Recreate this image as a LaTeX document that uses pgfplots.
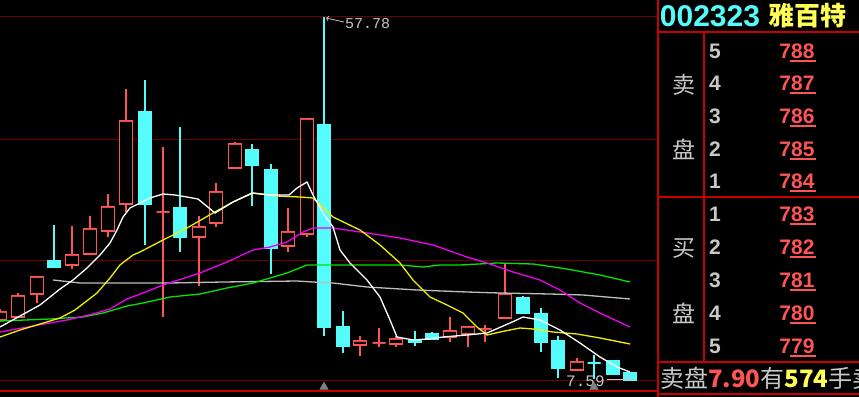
\documentclass[border=0pt]{standalone}
\usepackage{pgfplots}
\pgfplotsset{compat=1.18}
\usepgfplotslibrary{statistics}
\usepackage{fontspec}
\setmainfont{Liberation Sans}
\newfontfamily\cjk{Noto Sans CJK SC}
\newfontfamily\mono{Liberation Mono}
\definecolor{cr}{RGB}{255,84,84}
\definecolor{cc}{RGB}{84,252,252}
\definecolor{gridr}{RGB}{110,0,0}
\definecolor{bord}{RGB}{200,0,0}
\definecolor{mafive}{RGB}{255,255,255}
\definecolor{maten}{RGB}{240,240,0}
\definecolor{matwenty}{RGB}{240,0,240}
\definecolor{mathirty}{RGB}{0,230,0}
\definecolor{masixty}{RGB}{190,190,190}
\definecolor{txtg}{RGB}{200,200,200}
\definecolor{yel}{RGB}{255,255,84}
\tikzset{
  rc/.style={draw=cr, fill=black, line width=1.2bp, solid},
  cy/.style={draw=cc, fill=cc, line width=1.2bp, solid},
  mal/.style={line width=1.3bp, solid, mark=none},
}
\newcommand{\pf}{\fontsize{21bp}{21bp}\selectfont\bfseries}
\begin{document}
\begin{tikzpicture}
\begin{axis}[
  width=859bp, height=397bp, scale only axis,
  xmin=0, xmax=859, ymin=0, ymax=397, y dir=reverse,
  hide axis, clip=true,
  boxplot/draw direction=y,
  boxplot/whisker extend=0,
  boxplot/box extend=13,
  boxplot/every median/.style={draw=none},
]
% background
\addplot[fill=black, draw=none] coordinates {(0,0)(859,0)(859,397)(0,397)(0,0)};
% grid lines
\addplot[gridr, line width=1bp, mark=none] coordinates {(0,17)(657,17)};
\addplot[gridr, line width=1bp, mark=none] coordinates {(0,139)(657,139)};
\addplot[gridr, line width=1bp, mark=none] coordinates {(0,260)(657,260)};
\addplot[gridr, line width=1bp, mark=none] coordinates {(0,380)(657,380)};
\addplot[bord, line width=1.2bp, mark=none] coordinates {(0,391)(657,391)};
% right panel frame
\addplot[bord, line width=1.2bp, mark=none] coordinates {(658,0)(658,397)};
\addplot[bord, line width=1.2bp, mark=none] coordinates {(704,32)(704,362)};
\addplot[bord, line width=1.2bp, mark=none] coordinates {(658,32)(859,32)};
\addplot[bord, line width=1.2bp, mark=none] coordinates {(658,197)(859,197)};
\addplot[bord, line width=1.2bp, mark=none] coordinates {(658,362)(859,362)};
\addplot[bord, line width=1.2bp, mark=none] coordinates {(658,394)(859,394)};
% candles (pixel scale): position, low, bottom, top, high
\addplot[rc, boxplot prepared={draw position=0,   lower whisker=322, lower quartile=320, median=312, upper quartile=312, upper whisker=309}] coordinates {};
\addplot[rc, boxplot prepared={draw position=18,  lower whisker=317, lower quartile=317, median=296, upper quartile=296, upper whisker=293}] coordinates {};
\addplot[rc, boxplot prepared={draw position=37,  lower whisker=303, lower quartile=294, median=277, upper quartile=277, upper whisker=277}] coordinates {};
\addplot[cy, boxplot prepared={draw position=54,  lower whisker=267, lower quartile=267, median=261, upper quartile=261, upper whisker=225}] coordinates {};
\addplot[rc, boxplot prepared={draw position=72,  lower whisker=269, lower quartile=265, median=255, upper quartile=255, upper whisker=226}] coordinates {};
\addplot[rc, boxplot prepared={draw position=90,  lower whisker=254, lower quartile=254, median=229, upper quartile=229, upper whisker=216}] coordinates {};
\addplot[rc, boxplot prepared={draw position=108, lower whisker=237, lower quartile=231, median=207, upper quartile=207, upper whisker=194}] coordinates {};
\addplot[rc, boxplot prepared={draw position=126, lower whisker=212, lower quartile=204, median=121, upper quartile=121, upper whisker=89}] coordinates {};
\addplot[cy, boxplot prepared={draw position=145, lower whisker=245, lower quartile=204, median=112, upper quartile=112, upper whisker=80}] coordinates {};
\addplot[rc, boxplot prepared={draw position=163, lower whisker=317, lower quartile=212, median=212, upper quartile=212, upper whisker=147}] coordinates {};
\addplot[cy, boxplot prepared={draw position=180, lower whisker=252, lower quartile=237, median=208, upper quartile=208, upper whisker=127}] coordinates {};
\addplot[rc, boxplot prepared={draw position=199, lower whisker=286, lower quartile=237, median=227, upper quartile=227, upper whisker=216}] coordinates {};
\addplot[rc, boxplot prepared={draw position=216, lower whisker=227, lower quartile=223, median=192, upper quartile=192, upper whisker=183}] coordinates {};
\addplot[rc, boxplot prepared={draw position=235, lower whisker=168, lower quartile=168, median=144, upper quartile=144, upper whisker=142}] coordinates {};
\addplot[cy, boxplot prepared={draw position=252, lower whisker=206, lower quartile=165, median=150, upper quartile=150, upper whisker=144}] coordinates {};
\addplot[cy, boxplot prepared={draw position=271, lower whisker=274, lower quartile=248, median=170, upper quartile=170, upper whisker=164}] coordinates {};
\addplot[rc, boxplot prepared={draw position=288, lower whisker=252, lower quartile=246, median=232, upper quartile=232, upper whisker=208}] coordinates {};
\addplot[rc, boxplot prepared={draw position=307, lower whisker=237, lower quartile=234, median=119, upper quartile=119, upper whisker=119}] coordinates {};
\addplot[cy, boxplot prepared={draw position=324, lower whisker=336, lower quartile=327, median=125, upper quartile=125, upper whisker=17}] coordinates {};
\addplot[cy, boxplot prepared={draw position=343, lower whisker=353, lower quartile=346, median=327, upper quartile=327, upper whisker=311}] coordinates {};
\addplot[rc, boxplot prepared={draw position=360, lower whisker=356, lower quartile=345, median=341, upper quartile=341, upper whisker=336}] coordinates {};
\addplot[rc, boxplot prepared={draw position=379, lower whisker=347, lower quartile=343, median=343, upper quartile=343, upper whisker=328}] coordinates {};
\addplot[rc, boxplot prepared={draw position=396, lower whisker=347, lower quartile=344, median=339, upper quartile=339, upper whisker=336}] coordinates {};
\addplot[cy, boxplot prepared={draw position=415, lower whisker=346, lower quartile=342, median=340, upper quartile=340, upper whisker=331}] coordinates {};
\addplot[cy, boxplot prepared={draw position=432, lower whisker=339, lower quartile=339, median=334, upper quartile=334, upper whisker=332}] coordinates {};
\addplot[rc, boxplot prepared={draw position=450, lower whisker=342, lower quartile=337, median=331, upper quartile=331, upper whisker=317}] coordinates {};
\addplot[rc, boxplot prepared={draw position=468, lower whisker=347, lower quartile=334, median=327, upper quartile=327, upper whisker=327}] coordinates {};
\addplot[rc, boxplot prepared={draw position=485, lower whisker=342, lower quartile=329, median=329, upper quartile=329, upper whisker=325}] coordinates {};
\addplot[rc, boxplot prepared={draw position=505, lower whisker=318, lower quartile=318, median=294, upper quartile=294, upper whisker=263}] coordinates {};
\addplot[cy, boxplot prepared={draw position=523, lower whisker=313, lower quartile=313, median=298, upper quartile=298, upper whisker=296}] coordinates {};
\addplot[cy, boxplot prepared={draw position=541, lower whisker=352, lower quartile=342, median=314, upper quartile=314, upper whisker=308}] coordinates {};
\addplot[cy, boxplot prepared={draw position=558, lower whisker=378, lower quartile=368, median=341, upper quartile=341, upper whisker=336}] coordinates {};
\addplot[rc, boxplot prepared={draw position=577, lower whisker=370, lower quartile=370, median=362, upper quartile=362, upper whisker=358}] coordinates {};
\addplot[cy, boxplot prepared={draw position=594, lower whisker=379, lower quartile=363, median=363, upper quartile=363, upper whisker=355}] coordinates {};
\addplot[cy, boxplot prepared={draw position=613, lower whisker=374, lower quartile=374, median=361, upper quartile=361, upper whisker=361}] coordinates {};
\addplot[cy, boxplot prepared={draw position=630, lower whisker=380, lower quartile=380, median=373, upper quartile=373, upper whisker=373}] coordinates {};
% moving averages
\addplot[mal, masixty] coordinates {(53,280)(80,283)(170,283)(223,282)(297,281)(313,282)(333,283)(367,287)(417,290)(467,292)(500,293)(550,294)(583,295)(630,299)};
\addplot[mal, mathirty] coordinates {(0,321)(50,319)(83,317)(103,313)(127,306)(143,303)(170,297)(200,294)(227,288)(253,283)(287,273)(307,265)(313,265)(400,265)(423,267)(440,265)(460,265)(497,263)(533,264)(567,269)(600,275)(630,282)};
\addplot[mal, matwenty] coordinates {(0,332)(33,326)(67,320)(93,314)(110,309)(127,299)(143,293)(163,285)(200,273)(227,262)(253,250)(270,247)(287,242)(303,232)(313,228)(333,228)(367,233)(400,238)(433,245)(467,257)(487,263)(513,272)(540,280)(560,290)(580,303)(600,313)(630,327)};
\addplot[mal, maten] coordinates {(0,337)(20,330)(40,324)(60,318)(75,310)(97,293)(110,278)(120,265)(133,255)(140,252)(163,240)(187,228)(213,213)(233,202)(253,193)(277,196)(300,197)(313,198)(333,217)(360,230)(380,245)(400,263)(413,280)(430,297)(447,305)(463,313)(477,327)(487,335)(500,332)(520,328)(533,329)(553,332)(577,334)(600,338)(630,344)};
\addplot[mal, mafive] coordinates {(0,327)(20,316)(40,305)(60,289)(73,280)(87,268)(100,255)(110,243)(117,230)(123,217)(130,208)(140,203)(150,198)(163,194)(175,195)(187,197)(198,199)(215,213)(233,202)(252,193)(270,195)(289,195)(297,188)(307,182)(313,195)(323,213)(333,227)(340,250)(350,263)(367,280)(380,297)(390,320)(397,337)(413,340)(427,339)(443,337)(467,335)(487,333)(510,323)(523,317)(540,320)(560,330)(580,343)(600,357)(617,367)(630,372)};
% markers at the bottom
\addplot[only marks, mark=triangle*, mark size=5bp, color=gray, mark options={solid}] coordinates {(324,387)(594,387)};
% annotations
\draw[txtg, line width=0.8bp, ->] (axis cs:344,22) -- (axis cs:326,18);
\node[anchor=west, text=txtg, inner sep=0pt, font=\mono\fontsize{15bp}{15bp}\selectfont] at (axis cs:345,24) {57.78};
\node[anchor=west, text=txtg, inner sep=0pt, font=\mono\fontsize{16bp}{16bp}\selectfont] at (axis cs:566,381) {7.59};
\draw[txtg, line width=0.8bp, ->] (axis cs:607,379) -- (axis cs:631,379);
% right panel
\node[text=cc, inner sep=0pt, font=\fontsize{30bp}{30bp}\selectfont\bfseries] at (axis cs:710,16) {002323};
\node[text=yel, inner sep=0pt, font=\cjk\fontsize{26bp}{26bp}\selectfont\bfseries] at (axis cs:807,16) {雅百特};
\node[text=txtg, inner sep=0pt, font=\cjk\fontsize{23bp}{23bp}\selectfont] at (axis cs:684,85) {卖};
\node[text=txtg, inner sep=0pt, font=\cjk\fontsize{23bp}{23bp}\selectfont] at (axis cs:684,149) {盘};
\node[text=txtg, inner sep=0pt, font=\cjk\fontsize{23bp}{23bp}\selectfont] at (axis cs:684,248) {买};
\node[text=txtg, inner sep=0pt, font=\cjk\fontsize{23bp}{23bp}\selectfont] at (axis cs:684,313) {盘};
% sell levels
\node[text=txtg, inner sep=0pt, font=\pf] at (axis cs:715,51) {5};
\node[text=txtg, inner sep=0pt, font=\pf] at (axis cs:715,83) {4};
\node[text=txtg, inner sep=0pt, font=\pf] at (axis cs:715,116) {3};
\node[text=txtg, inner sep=0pt, font=\pf] at (axis cs:715,149) {2};
\node[text=txtg, inner sep=0pt, font=\pf] at (axis cs:715,181) {1};
\node[text=cr, inner sep=0pt, font=\pf] at (axis cs:797,51) {788};
\node[text=cr, inner sep=0pt, font=\pf] at (axis cs:797,83) {787};
\node[text=cr, inner sep=0pt, font=\pf] at (axis cs:797,116) {786};
\node[text=cr, inner sep=0pt, font=\pf] at (axis cs:797,149) {785};
\node[text=cr, inner sep=0pt, font=\pf] at (axis cs:797,181) {784};
% buy levels
\node[text=txtg, inner sep=0pt, font=\pf] at (axis cs:715,214) {1};
\node[text=txtg, inner sep=0pt, font=\pf] at (axis cs:715,247) {2};
\node[text=txtg, inner sep=0pt, font=\pf] at (axis cs:715,280) {3};
\node[text=txtg, inner sep=0pt, font=\pf] at (axis cs:715,313) {4};
\node[text=txtg, inner sep=0pt, font=\pf] at (axis cs:715,346) {5};
\node[text=cr, inner sep=0pt, font=\pf] at (axis cs:797,214) {783};
\node[text=cr, inner sep=0pt, font=\pf] at (axis cs:797,247) {782};
\node[text=cr, inner sep=0pt, font=\pf] at (axis cs:797,280) {781};
\node[text=cr, inner sep=0pt, font=\pf] at (axis cs:797,313) {780};
\node[text=cr, inner sep=0pt, font=\pf] at (axis cs:797,346) {779};
% underlines
\addplot[cr, line width=1.2bp, mark=none, unbounded coords=jump] coordinates {(790,61)(816,61) (800,nan) (790,93)(816,93) (800,nan) (790,126)(816,126) (800,nan) (790,159)(816,159) (800,nan) (790,191)(816,191) (800,nan) (790,224)(816,224) (800,nan) (790,257)(816,257) (800,nan) (790,290)(816,290) (800,nan) (790,323)(816,323) (800,nan) (790,356)(816,356)};
% bottom line
\node[anchor=west, inner sep=0pt, text=txtg, font=\cjk\fontsize{24bp}{24bp}\selectfont] at (axis cs:660,378) {卖盘\textcolor{cr}{\bfseries 7.90}有\textcolor{yel}{\bfseries 574}手卖};
\coordinate (bbA) at (axis cs:0,397);
\coordinate (bbB) at (axis cs:859,0);
\end{axis}
\pgfresetboundingbox
\path (bbA) rectangle (bbB);
\end{tikzpicture}
\end{document}
